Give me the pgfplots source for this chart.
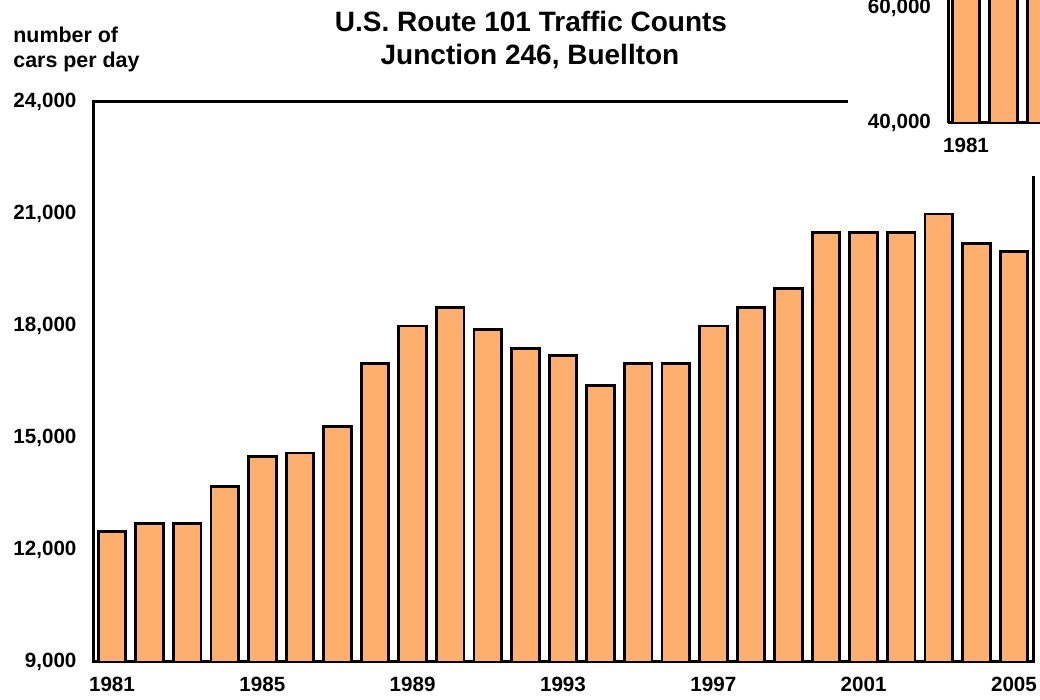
\documentclass[border=0pt]{standalone}
\usepackage{fontspec}
\setmainfont{Liberation Sans}
\usepackage{pgfplots}
\pgfplotsset{compat=1.18}
\definecolor{barorange}{RGB}{254,175,110}
\begin{document}
\begin{tikzpicture}
\path[use as bounding box] (0,0) rectangle (520pt,350pt);
\begin{axis}[
  at={(46.75pt,19pt)}, anchor=south west,
  scale only axis, width=469.75pt, height=280pt,
  xmin=1980.508, xmax=2005.506, ymin=9000, ymax=24000,
  ybar, bar width=13.8pt, bar shift=0pt,
  scaled ticks=false,
  xtick={1981,1985,...,2005}, ytick={9000,12000,...,24000},
  axis line style={line width=1.5pt},
  major tick length=0pt,
  /pgf/number format/assume math mode=true,
  xticklabel style={/pgf/number format/1000 sep={}, font=\fontsize{10.3}{12}\selectfont\bfseries, yshift=-4pt},
  yticklabel style={/pgf/number format/1000 sep={,}, font=\fontsize{10.3}{12}\selectfont\bfseries, xshift=-5pt},
]
\addplot[fill=barorange, draw=black, line width=1.4pt] coordinates {
(1981,12500)(1982,12700)(1983,12700)(1984,13700)(1985,14500)(1986,14600)
(1987,15300)(1988,17000)(1989,18000)(1990,18500)(1991,17900)(1992,17400)
(1993,17200)(1994,16400)(1995,17000)(1996,17000)(1997,18000)(1998,18500)
(1999,19000)(2000,20500)(2001,20500)(2002,20500)(2003,21000)(2004,20200)
(2005,20000)};
\end{axis}
\fill[white] (424pt,262pt) rectangle (520pt,350pt);
\begin{axis}[
  at={(474pt,288.5pt)}, anchor=south west,
  scale only axis, width=46pt, height=61.5pt,
  xmin=1980.52, xmax=1982.968, ymin=40000, ymax=61391,
  axis x line*=bottom, axis y line*=left,
  ybar, bar width=13.8pt, bar shift=0pt,
  scaled ticks=false,
  xtick={1981}, ytick={40000,60000},
  axis line style={line width=1.5pt, -},
  major tick length=0pt,
  /pgf/number format/assume math mode=true,
  xticklabel style={/pgf/number format/1000 sep={}, font=\fontsize{10.3}{12}\selectfont\bfseries, yshift=-4pt},
  yticklabel style={/pgf/number format/1000 sep={,}, font=\fontsize{10.3}{12}\selectfont\bfseries, xshift=-5pt},
]
\addplot[fill=barorange, draw=black, line width=1.4pt] coordinates {
(1981,70000)(1982,70000)(1983,70000)};
\end{axis}
\node[anchor=base, font=\fontsize{14}{16}\selectfont\bfseries] at (265.5pt,334pt) {U.S. Route 101 Traffic Counts};
\node[anchor=base, font=\fontsize{14}{16}\selectfont\bfseries] at (265pt,317.5pt) {Junction 246, Buellton};
\node[anchor=base west, inner sep=0pt, font=\fontsize{10.7}{12}\selectfont\bfseries] at (6.5pt,328.5pt) {number of};
\node[anchor=base west, inner sep=0pt, font=\fontsize{10.7}{12}\selectfont\bfseries] at (6.5pt,316pt) {cars per day};
\end{tikzpicture}
\end{document}
